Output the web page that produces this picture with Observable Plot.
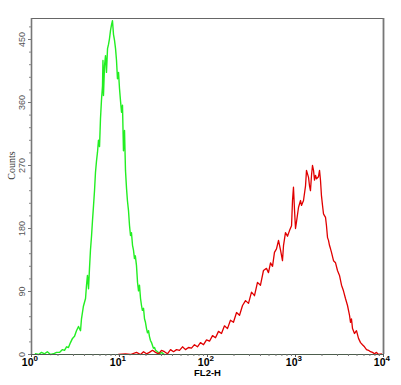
<!DOCTYPE html>
<html><head><meta charset="utf-8">
<script src="https://cdn.jsdelivr.net/npm/d3@7"></script>
<script src="https://cdn.jsdelivr.net/npm/@observablehq/plot@0.6"></script>
<style>body{margin:0;background:#fff} svg{display:block}</style>
</head><body><div id="chart"></div>
<script>
// FL2-H in log10 decades, with counts
const greenLog = [0.045,0.08,0.114,0.148,0.18,0.216,0.25,0.284,0.318,0.352,0.375,0.398,0.42,0.443,0.466,0.489,0.511,0.534,0.557,0.568,0.59,0.614,0.625,0.636,0.648,0.659,0.67,0.682,0.693,0.705,0.716,0.727,0.739,0.75,0.761,0.773,0.784,0.795,0.807,0.812,0.818,0.83,0.841,0.852,0.864,0.875,0.886,0.898,0.909,0.92,0.932,0.943,0.955,0.966,0.977,0.989,1.0,1.011,1.023,1.034,1.045,1.057,1.068,1.08,1.09,1.102,1.114,1.125,1.136,1.148,1.159,1.17,1.18,1.193,1.205,1.216,1.227,1.239,1.25,1.26,1.273,1.284,1.295,1.307,1.318,1.33,1.34,1.352,1.364,1.375,1.386,1.398,1.41,1.432,1.455,1.477,1.51];
const greenCounts = [1,0,3,1,4,0,1,3,3,7,6,11,10,17,23,26,34,40,34,51,69,80,99,113,94,123,149,169,191,213,234,260,277,289,306,297,337,363,384,420,370,413,427,403,437,443,451,463,471,477,457,449,437,420,394,403,380,363,346,356,291,320,263,237,220,206,184,170,174,156,149,137,141,127,103,91,99,80,70,63,66,51,46,37,31,34,26,20,17,13,9,10,6,4,1,3,0];
const redLog = [0.989,1.068,1.125,1.193,1.239,1.273,1.307,1.34,1.375,1.41,1.443,1.477,1.511,1.545,1.58,1.614,1.648,1.682,1.716,1.75,1.784,1.818,1.852,1.886,1.92,1.955,1.989,2.023,2.057,2.091,2.125,2.159,2.193,2.227,2.261,2.295,2.33,2.364,2.398,2.432,2.466,2.5,2.534,2.568,2.602,2.636,2.67,2.693,2.716,2.739,2.761,2.784,2.807,2.83,2.852,2.864,2.886,2.909,2.932,2.955,2.966,2.977,2.989,3.0,3.011,3.034,3.057,3.068,3.091,3.114,3.125,3.148,3.159,3.17,3.182,3.193,3.205,3.216,3.227,3.239,3.261,3.273,3.284,3.295,3.307,3.318,3.341,3.352,3.364,3.375,3.386,3.398,3.409,3.432,3.455,3.477,3.5,3.523,3.545,3.568,3.591,3.614,3.625,3.636,3.648,3.67,3.693,3.716,3.739,3.761,3.784,3.807,3.83,3.852,3.875,3.898,3.92,3.943,3.977];
const redCounts = [0,1,0,3,0,4,1,3,6,3,1,6,4,1,7,4,7,6,11,7,10,9,14,11,17,14,21,19,27,24,33,30,41,37,49,46,60,56,70,77,73,89,84,103,99,120,123,117,131,126,146,151,163,149,134,156,174,169,177,184,220,239,206,180,189,210,220,213,220,241,263,253,241,234,256,270,263,249,256,251,254,263,249,227,213,201,196,184,167,163,156,151,146,134,131,120,113,99,91,80,70,56,46,51,37,30,34,23,17,14,11,7,6,4,3,1,3,0,1];
const decades = [0,1,2,3,4];
const yLabels = [0,90,180,270,360,450];
const yMinor = [18,36,54,72,108,126,144,162,198,216,234,252,288,306,324,342,378,396,414,432,468];
const xMinorMult = [2,3,4,5,6,7,8,9];

const green = greenLog.map((l,i)=>({x: 10**l, y: greenCounts[i]}));
const red = redLog.map((l,i)=>({x: 10**l, y: redCounts[i]}));
const xMinor = decades.slice(0,4).flatMap(d => xMinorMult.map(m => m * 10**d));

const plot = Plot.plot({
  width: 401, height: 385,
  marginLeft: 31, marginRight: 18, marginTop: 18, marginBottom: 31,
  x: {type: "log", domain: [1, 10000]},
  y: {domain: [0, 480]},
  style: {background: "white", fontFamily: "'Liberation Sans', Arial, sans-serif"},
  marks: [
    Plot.line(green, {x: "x", y: "y", stroke: "#22ee22", strokeWidth: 1.4}),
    Plot.line(red, {x: "x", y: "y", stroke: "#e00000", strokeWidth: 1.3}),
    Plot.ruleY([480], {stroke: "#666", strokeWidth: 1}),
    Plot.ruleX([10000], {stroke: "#777", strokeWidth: 1.8}),
    Plot.ruleX([1], {stroke: "#777", strokeWidth: 1.6}),
    Plot.ruleY([0], {stroke: "#4d5d4d", strokeWidth: 1.2}),
    Plot.axisY({ticks: yLabels, tickSize: 3, tickFormat: () => "", label: null, stroke: "#777"}),
    Plot.axisY({ticks: yMinor, tickSize: 2, tickFormat: () => "", label: null, stroke: "#888"}),
    Plot.axisX({ticks: decades.map(d => 10**d), tickSize: 3, tickFormat: () => "", label: null, stroke: "#555"}),
    Plot.axisX({ticks: xMinor, tickSize: 2, tickFormat: () => "", label: null, stroke: "#777"}),
    Plot.text(yLabels, {x: 1, y: d => d, text: d => String(d), rotate: -90, dx: -9, fontSize: 9, fill: "#555", textAnchor: "middle"}),
    Plot.text(decades, {x: d => 10**d, y: 0, text: () => "10", dx: 2, dy: 8, textAnchor: "end", fontSize: 10.5, fontWeight: "bold", fill: "#000"}),
    Plot.text(decades, {x: d => 10**d, y: 0, text: d => String(d), dx: 2, dy: 4, textAnchor: "start", fontSize: 8, fontWeight: "bold", fill: "#000"}),
    Plot.text(["FL2-H"], {frameAnchor: "bottom", dy: 21, fontSize: 9.5, fontWeight: "bold", fill: "#000"}),
    Plot.text(["Counts"], {x: 1, y: 270, dx: -20, rotate: -90, fontSize: 10, fontFamily: "'Liberation Serif', 'Times New Roman', serif", fill: "#333"})
  ]
});
document.getElementById("chart").appendChild(plot);
</script>
</body></html>
